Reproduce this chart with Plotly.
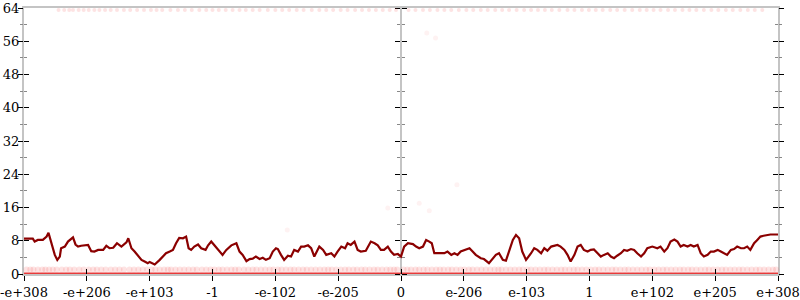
import plotly.graph_objects as go

# x positions of the line (axis units: one tick = 100) and its values
line_x = [-600, -594, -586, -583, -578, -570, -564, -561, -557, -551, -547, -543, -541, -535, -530,
          -522, -518, -514, -509, -498, -493, -488, -482, -474, -469, -464, -458, -452, -445, -437,
          -434, -429, -424, -419, -413, -408, -403, -400, -392, -384, -379, -374, -368, -363, -358,
          -353, -347, -342, -338, -334, -329, -323, -318, -311, -307, -302, -297, -291, -284, -278,
          -270, -262, -257, -252, -246, -241, -236, -231, -225, -220, -215, -209, -204, -199, -196,
          -191, -186, -180, -175, -170, -164, -159, -154, -148, -143, -138, -130, -124, -119, -111,
          -106, -101, -95, -89, -85, -80, -74, -69, -64, -56, -48, -42, -37, -32, -27,
          -21, -16, -11, -5, 0,
          5, 11, 19, 24, 29, 35, 40, 45, 49, 53, 61, 69, 74, 80, 85,
          90, 95, 103, 109, 114, 119, 127, 132, 140, 146, 151, 156, 162, 167, 172,
          178, 183, 188, 193, 199, 207, 212, 217, 223, 228, 233, 239, 249, 254, 260,
          265, 270, 276, 281, 286, 291, 297, 302, 307, 313, 318, 323, 329, 334, 339,
          344, 350, 355, 360, 366, 371, 376, 382, 387, 392, 400, 408, 413, 419, 424,
          429, 435, 440, 445, 450, 456, 461, 466, 472, 477, 482, 488, 493, 498, 504,
          509, 514, 519, 525, 530, 535, 541, 546, 551, 556, 562, 567, 572, 577, 583,
          588, 600]
line_y = [8.5, 8.5, 8.5, 7.8, 8.2, 8.2, 9.0, 9.9, 7.5, 4.6, 3.4, 4.2, 6.2, 6.6, 7.8,
          8.8, 7.1, 6.6, 6.8, 7.0, 5.5, 5.4, 5.8, 5.8, 6.8, 6.2, 6.3, 7.4, 6.6, 7.6,
          8.6, 6.2, 5.4, 4.6, 3.4, 3.0, 2.6, 2.9, 2.3, 3.4, 4.2, 5.0, 5.4, 5.8, 7.4,
          8.7, 8.6, 9.0, 6.2, 5.8, 6.6, 7.1, 6.2, 5.8, 6.9, 7.8, 6.9, 5.8, 4.6, 5.8,
          6.9, 7.4, 5.4, 4.6, 3.1, 3.6, 3.7, 4.2, 3.6, 3.9, 3.4, 3.8, 5.4, 6.2, 6.0,
          4.6, 3.4, 4.4, 4.2, 5.8, 5.4, 6.6, 6.6, 6.9, 6.2, 4.2, 6.6, 5.8, 4.6, 5.0,
          4.2, 5.4, 6.6, 6.2, 7.4, 7.0, 7.8, 5.8, 5.4, 5.6, 7.8, 7.4, 6.9, 5.8, 5.8,
          6.6, 5.4, 4.6, 4.8, 4.2,
          6.6, 7.4, 7.2, 6.6, 6.2, 6.6, 8.2, 7.8, 7.4, 5.0, 5.0, 5.0, 5.4, 4.6, 5.0,
          4.6, 5.4, 5.8, 6.2, 5.4, 4.6, 3.8, 3.6, 2.6, 3.8, 4.6, 5.0, 3.4, 3.2, 5.4,
          8.2, 9.4, 8.6, 5.4, 3.4, 5.0, 6.2, 5.8, 5.0, 6.2, 5.6, 6.6, 7.0, 6.6, 5.8,
          4.6, 3.0, 4.6, 6.6, 7.0, 5.8, 5.4, 5.8, 5.9, 5.0, 4.2, 4.6, 5.0, 4.2, 3.8,
          4.4, 5.0, 5.8, 5.6, 6.0, 5.8, 5.0, 4.2, 5.0, 6.2, 6.6, 6.2, 6.6, 5.4, 6.2,
          7.8, 8.3, 7.8, 6.6, 7.0, 6.6, 7.0, 6.6, 7.0, 5.0, 4.2, 4.6, 5.4, 5.4, 5.8,
          5.4, 5.0, 4.6, 5.8, 6.0, 6.6, 6.2, 6.2, 6.6, 5.8, 7.4, 8.2, 9.0, 9.2, 9.4,
          9.5, 9.5]

# faint sample points
floor_x = [-600, 600]
floor_y = [0, 0]
low_x = [-596, -590, -585, -578, -571, -566, -560, -554, -548, -540, -533, -527, -520, -512, -505,
         -497, -490, -484, -477, -470, -462, -455, -448, -441, -432, -425, -418, -411, -404, -397,
         -391, -384, -377, -371, -366, -359, -352, -345, -338, -331, -325, -317, -310, -303, -297,
         -290, -284, -277, -270, -264, -258, -250, -243, -236, -230, -223, -216, -209, -203, -196,
         -190, -183, -176, -170, -163, -156, -150, -143, -136, -129, -122, -116, -110, -103, -96,
         -89, -83, -76, -70, -63, -57, -50, -43, -37, -30, -23, -17, -11, -6,
         4, 10, 16, 23, 29, 36, 42, 49, 56, 62, 68, 75, 81, 88, 95, 101, 108, 114, 121, 128,
         135, 142, 149, 155, 160, 167, 174, 181, 188, 194, 201, 207, 214, 221, 228, 234, 241,
         248, 255, 261, 268, 275, 281, 288, 295, 302, 309, 315, 322, 329, 336, 342, 349, 356,
         362, 369, 376, 383, 390, 396, 403, 410, 417, 423, 430, 437, 444, 450, 457, 463, 470,
         477, 484, 490, 497, 504, 511, 517, 524, 531, 538, 544, 551, 558, 565, 571, 578, 585,
         592, 597]
low_y = [1.1] * len(low_x)
top_x = [-545, -536, -528, -522, -513, -505, -497, -488, -480, -471, -462, -452, -441, -431, -420,
         -409, -398, -389, -380, -367, -355, -344, -333, -321, -310, -300, -290, -279, -268, -257,
         -247, -236, -225, -212, -200, -189, -178, -166, -155, -142, -130, -119, -108, -96, -85,
         -73, -62, -51, -40, -29, -18, -8,
         12, 23, 35, 46, 58, 69, 80, 92, 104, 115, 127, 138, 150, 161, 172, 184, 196, 207,
         218, 229, 240, 252, 265, 276, 288, 299, 310, 321, 333, 344, 356, 368, 380, 391, 402,
         413, 425, 436, 448, 459, 470, 482, 494, 505, 517, 528, 540, 552, 563, 575]
top_y = [63.5] * len(top_x)
stray_x = [-181, 29, 45, 89, -21, 41, 55]
stray_y = [10.6, 17.0, 15.2, 21.5, 15.9, 58.0, 56.8]

tick_vals = [-600, -500, -400, -300, -200, -100, 0, 100, 200, 300, 400, 500, 600]
tick_text = ["-e+308", "-e+206", "-e+103", "-1", "-e-102", "-e-205", "0",
             "e-206", "e-103", "1", "e+102", "e+205", "e+308"]

AX = "#c4c4c4"
fig = go.Figure()
fig.add_trace(go.Scatter(x=low_x, y=low_y, mode="markers",
                         marker=dict(size=6, color="rgba(240,40,40,0.13)"), cliponaxis=False))
fig.add_trace(go.Scatter(x=top_x, y=top_y, mode="markers",
                         marker=dict(size=4, color="rgba(240,40,40,0.13)"), cliponaxis=False))
fig.add_trace(go.Scatter(x=stray_x, y=stray_y, mode="markers",
                         marker=dict(size=5, color="rgba(240,40,40,0.06)")))
fig.add_trace(go.Scatter(x=floor_x, y=floor_y, mode="lines",
                         line=dict(color="#e83a3a", width=3), cliponaxis=False))
fig.add_trace(go.Scatter(x=line_x, y=line_y, mode="lines",
                         line=dict(color="#8b0000", width=2.2)))
# empty traces so the overlay axes are drawn
fig.add_trace(go.Scatter(x=[], y=[], xaxis="x2", yaxis="y2"))
fig.add_trace(go.Scatter(x=[], y=[], xaxis="x", yaxis="y3"))
fig.add_trace(go.Scatter(x=[], y=[], xaxis="x", yaxis="y4"))

font = dict(family="DejaVu Serif", size=13, color="black")
ybase = dict(range=[0, 64], dtick=8, tick0=0, showgrid=False, zeroline=False,
             fixedrange=True, automargin=False)
minor_out = dict(dtick=4, tick0=0, ticks="outside", ticklen=3, tickcolor="#888")
minor_in = dict(dtick=4, tick0=0, ticks="inside", ticklen=3, tickcolor="#888")
fig.update_layout(
    width=800, height=300, showlegend=False,
    margin=dict(l=24, r=22, t=8, b=26, autoexpand=False),
    plot_bgcolor="white", paper_bgcolor="white",
    font=font,
    xaxis=dict(range=[-600, 600], tickvals=tick_vals, ticktext=tick_text,
               ticks="outside", ticklen=5, tickcolor="black", tickwidth=1,
               showline=True, mirror=True, linecolor=AX, linewidth=2,
               showgrid=False, zeroline=False, layer="below traces", tickfont=font,
               automargin=False),
    xaxis2=dict(range=[-600, 600], overlaying="x", tickvals=tick_vals,
                ticks="inside", ticklen=5, tickcolor="black", showticklabels=False,
                showline=False, showgrid=False, zeroline=False, automargin=False),
    yaxis=dict(**ybase, ticks="inside", ticklen=5, tickcolor="black", tickwidth=1,
               showline=True, mirror="ticks", linecolor=AX, linewidth=2,
               layer="below traces", tickfont=font, minor=minor_in),
    yaxis2=dict(**ybase, overlaying="y", ticks="outside", ticklen=5, tickcolor="black",
                showticklabels=False, showline=False, mirror="ticks", minor=minor_out),
    yaxis3=dict(**ybase, overlaying="y", anchor="free", position=0.5, side="left",
                ticks="outside", ticklen=5, tickcolor="black", showticklabels=False,
                showline=True, linecolor=AX, linewidth=2, layer="below traces",
                minor=minor_out),
    yaxis4=dict(**ybase, overlaying="y", anchor="free", position=0.5, side="right",
                ticks="outside", ticklen=5, tickcolor="black", showticklabels=False,
                showline=False, minor=minor_out),
)
fig.write_html("out.html")
